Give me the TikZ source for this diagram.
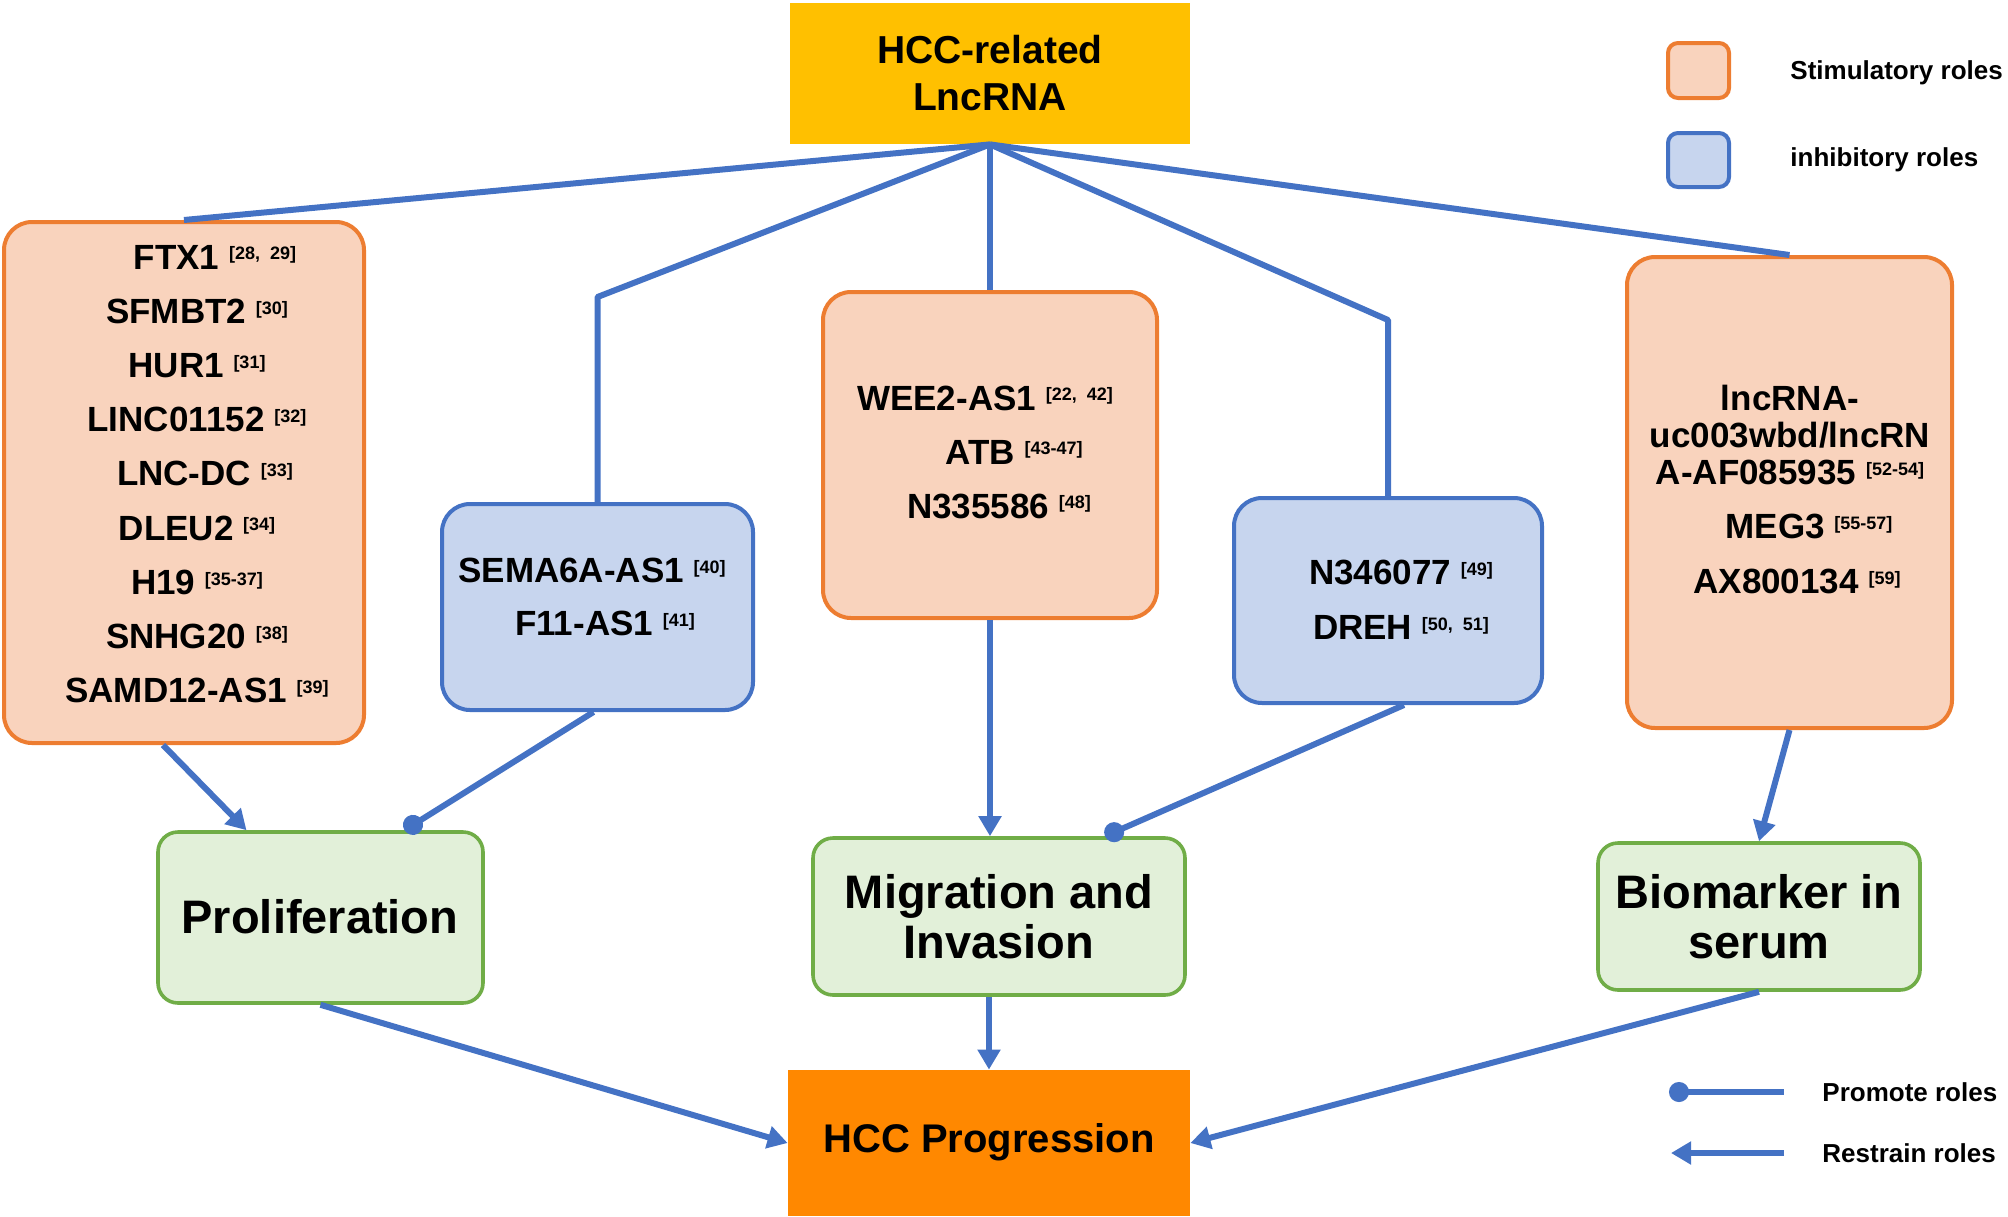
\documentclass[tikz,border=0pt]{standalone}
\usepackage{fontspec}
\setmainfont{Liberation Sans}
\usetikzlibrary{arrows.meta,calc,fit}
\definecolor{lblue}{HTML}{4472C4}
\definecolor{oline}{HTML}{ED7D31}
\definecolor{ofill}{HTML}{F9D3BD}
\definecolor{bfill}{HTML}{C7D5EE}
\definecolor{gfill}{HTML}{E2F0D9}
\definecolor{gline}{HTML}{70AD47}
\definecolor{topfill}{HTML}{FFC000}
\definecolor{progfill}{HTML}{FF8800}
\newcommand\myref[1]{\ \raisebox{4.6pt}{\fontsize{9}{9}\selectfont [#1]}}
\begin{document}
\begin{tikzpicture}[x=0.5pt,y=-0.5pt,
  boxbase/.style={inner sep=0pt, line width=2pt, rounded corners=14pt},
  obox/.style={boxbase, draw=oline, fill=ofill},
  bbox/.style={boxbase, draw=lblue, fill=bfill},
  gbox/.style={boxbase, draw=gline, fill=gfill, line width=1.8pt, rounded corners=10pt},
  itemtxt/.style={font=\bfseries\fontsize{17.5}{27}\selectfont, align=center, inner sep=0pt},
  bigtxt/.style={font=\bfseries\fontsize{23.5}{25}\selectfont, align=center, inner sep=0pt},
  legtxt/.style={font=\bfseries\fontsize{13}{15}\selectfont, anchor=west, inner sep=0pt},
  conn/.style={draw=lblue, line width=3pt},
  arr/.style={conn, -{Triangle[length=10pt,width=11pt]}},
  dotline/.style={conn, -{Circle[length=10pt]}},
]
\useasboundingbox (0,0) rectangle (2008,1216);

% top and bottom
\node[fill=topfill, inner sep=0pt, fit={(790,3)(1190,144)}] (top) {};
\node[font=\bfseries\fontsize{19.5}{23.5}\selectfont, align=center, inner sep=0pt] (toptxt) at (990,73.5) {HCC-related\\LncRNA};
\node[fill=progfill, inner sep=0pt, fit={(788,1070)(1190,1216)}] (prog) {};
\node[font=\bfseries\fontsize{20}{24}\selectfont, inner sep=0pt] (progtxt) at (989,1142) {HCC Progression};

% lncRNA boxes
\node[obox, fit={(4,222)(364,743)}] (lb) {};
\node[itemtxt, font=\bfseries\fontsize{17.5}{27.1}\selectfont] (lbt) at (197,474) {\hspace*{18pt}FTX1\myref{28,\ \ 29}\\ SFMBT2\myref{30}\\ HUR1\myref{31}\\ LINC01152\myref{32}\\ \hspace*{8pt}LNC-DC\myref{33}\\ DLEU2\myref{34}\\ H19\myref{35-37}\\ SNHG20\myref{38}\\ SAMD12-AS1\myref{39}};

\node[bbox, fit={(442,504)(753,710)}] (sb) {};
\node[itemtxt, font=\bfseries\fontsize{17.5}{26.5}\selectfont] (sbt) at (598,597) {SEMA6A-AS1\myref{40}\hspace*{6pt}\\ \hspace*{7pt}F11-AS1\myref{41}};

\node[obox, fit={(823,292)(1157,618)}] (mb) {};
\node[itemtxt] (mbt) at (999,452) {WEE2-AS1\myref{22,\ \ 42}\hspace*{14pt}\\ \hspace*{15pt}ATB\myref{43-47}\\ N335586\myref{48}};

\node[bbox, fit={(1234,498)(1542,703)}] (nb) {};
\node[itemtxt, font=\bfseries\fontsize{17.5}{27.5}\selectfont] (nbt) at (1401,600) {N346077\myref{49}\\ DREH\myref{50,\ \ 51}};

\node[obox, fit={(1627,257)(1952,728)}] (rb) {};
\node[itemtxt, font=\bfseries\fontsize{17.5}{18.5}\selectfont] (rbt) at (1790,490) {lncRNA-\\ uc003wbd/lncRN\\ A-AF085935\myref{52-54}\hspace*{6pt}\\[8.5pt] \hspace*{19pt}MEG3\myref{55-57}\\[9pt] \hspace*{7pt}AX800134\myref{59}};

% outcome boxes
\node[gbox, fit={(158,832)(483,1003)}] (prolif) {};
\node[bigtxt] (proliftxt) at (320,917) {Proliferation};
\node[gbox, fit={(813,838)(1185,995)}] (mig) {};
\node[bigtxt] (migtxt) at (999,917) {Migration and\\Invasion};
\node[gbox, fit={(1598,843)(1920,990)}] (bio) {};
\node[bigtxt] (biotxt) at (1759,917) {Biomarker in\\serum};

% connectors from the top
\coordinate (sbend) at (597.5,297);
\coordinate (nbend) at (1388,320);
\draw[conn, line join=round] (top.south) -- (lb.north);
\draw[conn, line join=round] (top.south) -- (sbend) -- (sb.north);
\draw[conn] (top.south) -- (mb.north);
\draw[conn, line join=round] (top.south) -- (nbend) -- (nb.north);
\draw[conn] (top.south) -- (rb.north);

% to outcomes
\draw[arr] ($(lb.south)+(-21,0)$) -- ($(prolif.north)+(-74,0)$);
\draw[dotline] ($(sb.south)+(-4,0)$) -- ($(prolif.north)+(84,0)$);
\draw[arr] (mb.south) -- (mb.south |- mig.north);
\draw[dotline] ($(nb.south)+(16,0)$) -- ($(mig.north)+(106,0)$);
\draw[arr] (rb.south) -- (bio.north);

% to progression
\draw[arr] (prolif.south) -- (prog.west);
\draw[arr] (prog.north |- mig.south) -- (prog.north);
\draw[arr] (bio.south) -- (prog.east);

% legend
\node[obox, line width=2pt, rounded corners=5pt, fit={(1668,43)(1729,98)}] (legO) {};
\node[bbox, line width=2pt, rounded corners=5pt, fit={(1668,133)(1729,187)}] (legB) {};
\node[legtxt] (legOt) at (1790,73) {Stimulatory roles};
\node[legtxt] (legBt) at (1790,160) {inhibitory roles};
\coordinate (p1) at (1669,1092);
\coordinate (p2) at (1784,1092);
\coordinate (r1) at (1671,1153);
\coordinate (r2) at (1784,1153);
\draw[conn, {Circle[length=10pt]}-] (p1) -- (p2);
\draw[arr] (r2) -- (r1);
\node[legtxt] (legPt) at (1822,1092) {Promote roles};
\node[legtxt] (legRt) at (1822,1153) {Restrain roles};
\end{tikzpicture}
\end{document}
